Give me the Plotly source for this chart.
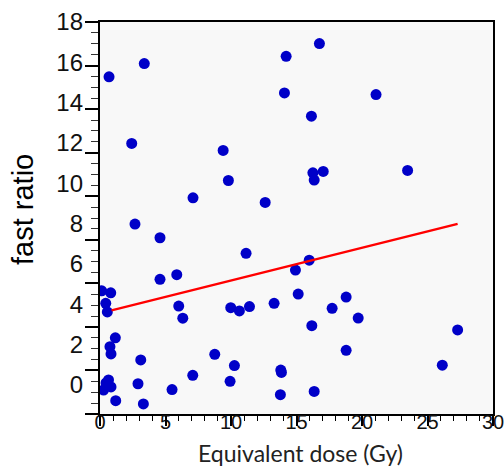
import plotly.graph_objects as go

# Equivalent dose (Gy)
dose = [0.13, 0.82, 0.44, 0.56, 1.17, 0.76, 0.84, 0.27, 0.46, 0.65, 0.84, 1.20,
        0.69, 3.38, 2.42, 2.67, 4.58, 4.58, 5.86, 6.01, 6.32, 3.11, 2.90, 3.31,
        5.50, 7.08, 7.10, 8.76, 9.40, 9.80, 9.93, 10.26, 9.98, 10.64, 11.15, 11.41,
        12.61, 13.29, 13.80, 13.85, 13.77, 14.21, 14.08, 16.75, 16.14, 16.25, 17.04,
        16.35, 15.97, 14.92, 15.13, 16.17, 16.35, 17.72, 18.79, 18.79, 19.71, 21.07,
        23.48, 26.13, 27.30]
# fast ratio
fast_ratio = [4.67, 4.57, 4.05, 3.62, 2.34, 1.90, 1.54, -0.25, 0.10, 0.25, -0.10, -0.78,
              15.28, 15.94, 11.98, 7.98, 7.30, 5.24, 5.47, 3.91, 3.31, 1.24, 0.06, -0.94,
              -0.23, 0.48, 9.28, 1.52, 11.63, 10.14, 0.18, 0.96, 3.83, 3.67, 6.53, 3.89,
              9.05, 4.05, 0.74, 0.62, -0.48, 16.30, 14.48, 16.93, 13.33, 10.52, 10.59,
              10.16, 6.19, 5.70, 4.51, 2.94, -0.32, 3.80, 4.36, 1.72, 3.32, 14.40,
              10.64, 0.98, 2.73]

# Regression line end points
fit_x = [0.88, 27.30]
fit_y = [3.70, 7.99]

y_tick_labels = [0, 2, 4, 6, 8, 10, 12, 14, 16, 18]
x_tick_labels = [0, 5, 10, 15, 20, 25, 30]

fig = go.Figure()
fig.add_trace(go.Scatter(x=dose, y=fast_ratio, mode="markers",
                         marker=dict(size=11, color="#0000c8"),
                         showlegend=False, hoverinfo="skip"))
fig.add_trace(go.Scatter(x=fit_x, y=fit_y, mode="lines",
                         line=dict(color="#ff0000", width=2.5),
                         showlegend=False, hoverinfo="skip"))
# invisible traces to keep the tick-mark axes alive
fig.add_trace(go.Scatter(x=[None], y=[None], xaxis="x", yaxis="y2",
                         showlegend=False, hoverinfo="skip"))
fig.add_trace(go.Scatter(x=[None], y=[None], xaxis="x2", yaxis="y",
                         showlegend=False, hoverinfo="skip"))

fig.update_layout(
    width=504, height=468,
    margin=dict(l=100, r=11, t=22, b=54, autoexpand=False),
    paper_bgcolor="white",
    plot_bgcolor="#f8f8f8",
    xaxis=dict(
        range=[0, 30], showgrid=False, zeroline=False, automargin=False,
        tickmode="array", tickvals=x_tick_labels,
        ticktext=[str(v) for v in x_tick_labels],
        ticks="", ticklabelstandoff=-6, ticklabeloverflow="allow",
        tickfont=dict(family="Liberation Sans, Arial", size=20, color="#111"),
        showline=False,
    ),
    xaxis2=dict(
        overlaying="x", side="bottom", anchor="y", automargin=False,
        range=[0, 30], showgrid=False, zeroline=False,
        dtick=5, tick0=0, showticklabels=False,
        ticks="outside", ticklen=10, tickwidth=1.5, tickcolor="black",
        minor=dict(dtick=1, ticks="outside", ticklen=5, tickwidth=1.2, tickcolor="black"),
        showline=True, linecolor="black", linewidth=2, mirror=True,
    ),
    yaxis=dict(
        range=[-1.44, 18], showgrid=False, zeroline=False, automargin=False,
        tickmode="array", tickvals=y_tick_labels,
        ticktext=[str(v) for v in y_tick_labels],
        ticks="", ticklabelstandoff=16, ticklabeloverflow="allow",
        tickfont=dict(family="Liberation Sans, Arial", size=24, color="#111"),
        showline=False,
    ),
    yaxis2=dict(
        overlaying="y", side="left", anchor="x", automargin=False,
        range=[0, 18], showgrid=False, zeroline=False,
        dtick=2, tick0=0, showticklabels=False,
        ticks="outside", ticklen=13, tickwidth=1.5, tickcolor="black",
        minor=dict(dtick=0.5, ticks="outside", ticklen=7, tickwidth=1.2, tickcolor="#333"),
        showline=True, linecolor="black", linewidth=2, mirror=True,
    ),
    annotations=[
        dict(text="fast ratio", textangle=-90, xref="paper", yref="paper",
             x=(23 - 100) / 393, y=(414 - 210) / 392, xanchor="center", yanchor="middle",
             showarrow=False, font=dict(family="Liberation Sans, Arial", size=29, color="black")),
        dict(text="Equivalent dose (Gy)", xref="paper", yref="paper",
             x=(300.5 - 100) / 393, y=-(453 - 414) / 392, xanchor="center", yanchor="middle",
             showarrow=False, font=dict(family="Lato, Open Sans", size=23, color="#222")),
    ],
)

fig.write_html("out.html")
